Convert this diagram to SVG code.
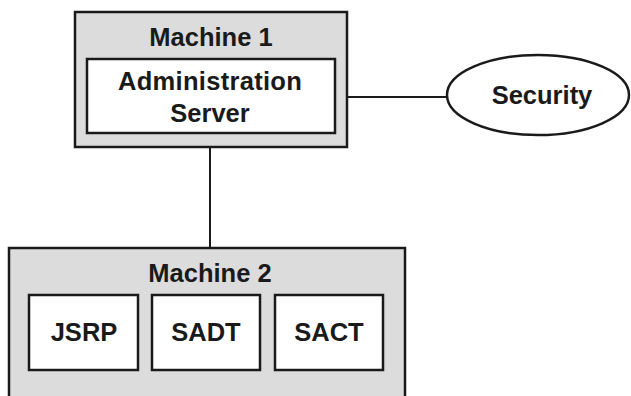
<svg xmlns="http://www.w3.org/2000/svg" width="631" height="396" viewBox="0 0 631 396">
<style>
.machine{fill:#dcdcdc;stroke:#1a1a1a;stroke-width:2.5}
.box{fill:#ffffff;stroke:#1a1a1a;stroke-width:2.5}
.lbl{font-family:"Liberation Sans",Arial,sans-serif;font-weight:bold;font-size:25.5px;fill:#1a1a1a;text-anchor:middle}
.conn{stroke:#1a1a1a;stroke-width:2;fill:none}
</style>
<rect width="631" height="396" fill="#ffffff"/>
<g id="connectors">
<line class="conn" x1="335" y1="97" x2="447" y2="97"/>
<line class="conn" x1="210" y1="147" x2="210" y2="248"/>
</g>
<g id="machine1">
<rect class="machine" x="75" y="12" width="272" height="135"/>
<text class="lbl" x="211" y="46">Machine 1</text>
</g>
<g id="admin-server">
<rect class="box" x="87" y="59" width="248" height="74"/>
<text class="lbl" x="210" y="90" letter-spacing="0.3">Administration</text>
<text class="lbl" x="210" y="122">Server</text>
</g>
<g id="security">
<ellipse class="box" cx="538" cy="95" rx="91" ry="40"/>
<text class="lbl" x="542" y="104">Security</text>
</g>
<g id="machine2">
<rect class="machine" x="9" y="248" width="396" height="160"/>
<text class="lbl" x="210" y="282">Machine 2</text>
</g>
<g id="jsrp">
<rect class="box" x="29" y="295" width="109" height="75"/>
<text class="lbl" x="84" y="341">JSRP</text>
</g>
<g id="sadt">
<rect class="box" x="152" y="295" width="108" height="75"/>
<text class="lbl" x="206" y="341">SADT</text>
</g>
<g id="sact">
<rect class="box" x="275" y="295" width="108" height="75"/>
<text class="lbl" x="329" y="341">SACT</text>
</g>
</svg>
